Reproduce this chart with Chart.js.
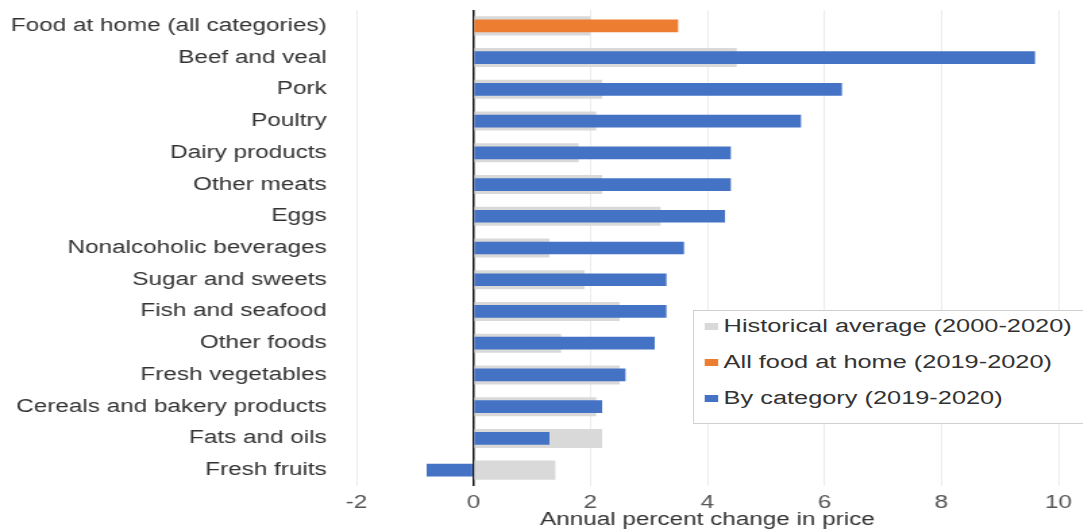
<!DOCTYPE html>
<html>
<head>
<meta charset="utf-8">
<script src="https://cdn.jsdelivr.net/npm/chart.js@4.4.1/dist/chart.umd.min.js"></script>
<style>
  body { margin: 0; background: #fff; overflow: hidden; }
  /* the source picture is stretched sideways, so the whole chart is too */
  #wrap { position: absolute; left: 0; top: 0; width: 802px; height: 531px;
          transform: scaleX(1.35); transform-origin: 0 0; }
  #legend { position: absolute; left: 513px; top: 310px; width: 320px; height: 112px;
            border: 1px solid #cfcfcf; background: #fff;
            font-family: "Liberation Sans", Arial, sans-serif; font-size: 18.8px; color: #333; }
  .item { position: absolute; left: 22px; height: 22px; line-height: 22px; white-space: nowrap; }
  .item span { position: absolute; left: -14px; top: 8px; width: 10px; height: 7px; }
</style>
</head>
<body>
<div id="wrap">
  <canvas id="chart" width="802" height="531"></canvas>
  <div id="legend"></div>
</div>
<script>
const categories = [
  "Food at home (all categories)",
  "Beef and veal",
  "Pork",
  "Poultry",
  "Dairy products",
  "Other meats",
  "Eggs",
  "Nonalcoholic beverages",
  "Sugar and sweets",
  "Fish and seafood",
  "Other foods",
  "Fresh vegetables",
  "Cereals and bakery products",
  "Fats and oils",
  "Fresh fruits"
];

// historical average 2000-2020
const historical = [2.0, 4.5, 2.2, 2.1, 1.8, 2.2, 3.2, 1.3, 1.9, 2.5, 1.5, 2.5, 2.1, 2.2, 1.4];
// all food at home 2019-2020
const allFood = [3.5, null, null, null, null, null, null, null, null, null, null, null, null, null, null];
// by category 2019-2020
const byCategory = [null, 9.6, 6.3, 5.6, 4.4, 4.4, 4.3, 3.6, 3.3, 3.3, 3.1, 2.6, 2.2, 1.3, -0.8];

const seriesNames = [
  "Historical average (2000-2020)",
  "All food at home (2019-2020)",
  "By category (2019-2020)"
];
const colors = ["#d9d9d9", "#ed7d31", "#4472c4"];

const font = { family: '"Liberation Sans", Arial, sans-serif', size: 18 };

new Chart(document.querySelector("#chart"), {
  type: "bar",
  data: {
    labels: categories,
    datasets: [
      { label: seriesNames[0], data: historical, backgroundColor: colors[0],
        barPercentage: 0.6, categoryPercentage: 1, grouped: false, order: 2 },
      { label: seriesNames[1], data: allFood, backgroundColor: colors[1],
        barPercentage: 0.4, categoryPercentage: 1, grouped: false, order: 1 },
      { label: seriesNames[2], data: byCategory, backgroundColor: colors[2],
        barPercentage: 0.4, categoryPercentage: 1, grouped: false, order: 0 }
    ]
  },
  options: {
    indexAxis: "y",
    responsive: false,
    animation: false,
    layout: { padding: { top: 10, right: 18, left: 0, bottom: 0 } },
    plugins: { legend: { display: false }, tooltip: { enabled: false } },
    scales: {
      x: {
        min: -2, max: 10,
        ticks: { stepSize: 2, color: "#555", font: font, padding: 6 },
        grid: {
          drawTicks: false,
          color: (c) => c.tick && c.tick.value === 0 ? "#111" : "#ececec",
          lineWidth: (c) => c.tick && c.tick.value === 0 ? 1.5 : 1
        },
        border: { display: false },
        title: { display: true, text: "Annual percent change in price", color: "#333",
                 font: font, padding: { top: 0, bottom: 0 } },
        afterFit: (s) => { s.height = 45; }
      },
      y: {
        ticks: { color: "#333", font: font, padding: 22 },
        grid: { display: false, drawTicks: false },
        border: { display: false },
        afterFit: (s) => { s.width = 264; s.paddingTop = 0; s.paddingBottom = 0; }
      }
    }
  }
});

// legend drawn inside the plot, like the original
const legend = document.querySelector("#legend");
seriesNames.forEach((name, i) => {
  const row = document.createElement("div");
  row.className = "item";
  row.style.top = (4 + i * 36) + "px";
  row.innerHTML = '<span style="background:' + colors[i] + '"></span>' + name;
  legend.appendChild(row);
});
</script>
</body>
</html>
